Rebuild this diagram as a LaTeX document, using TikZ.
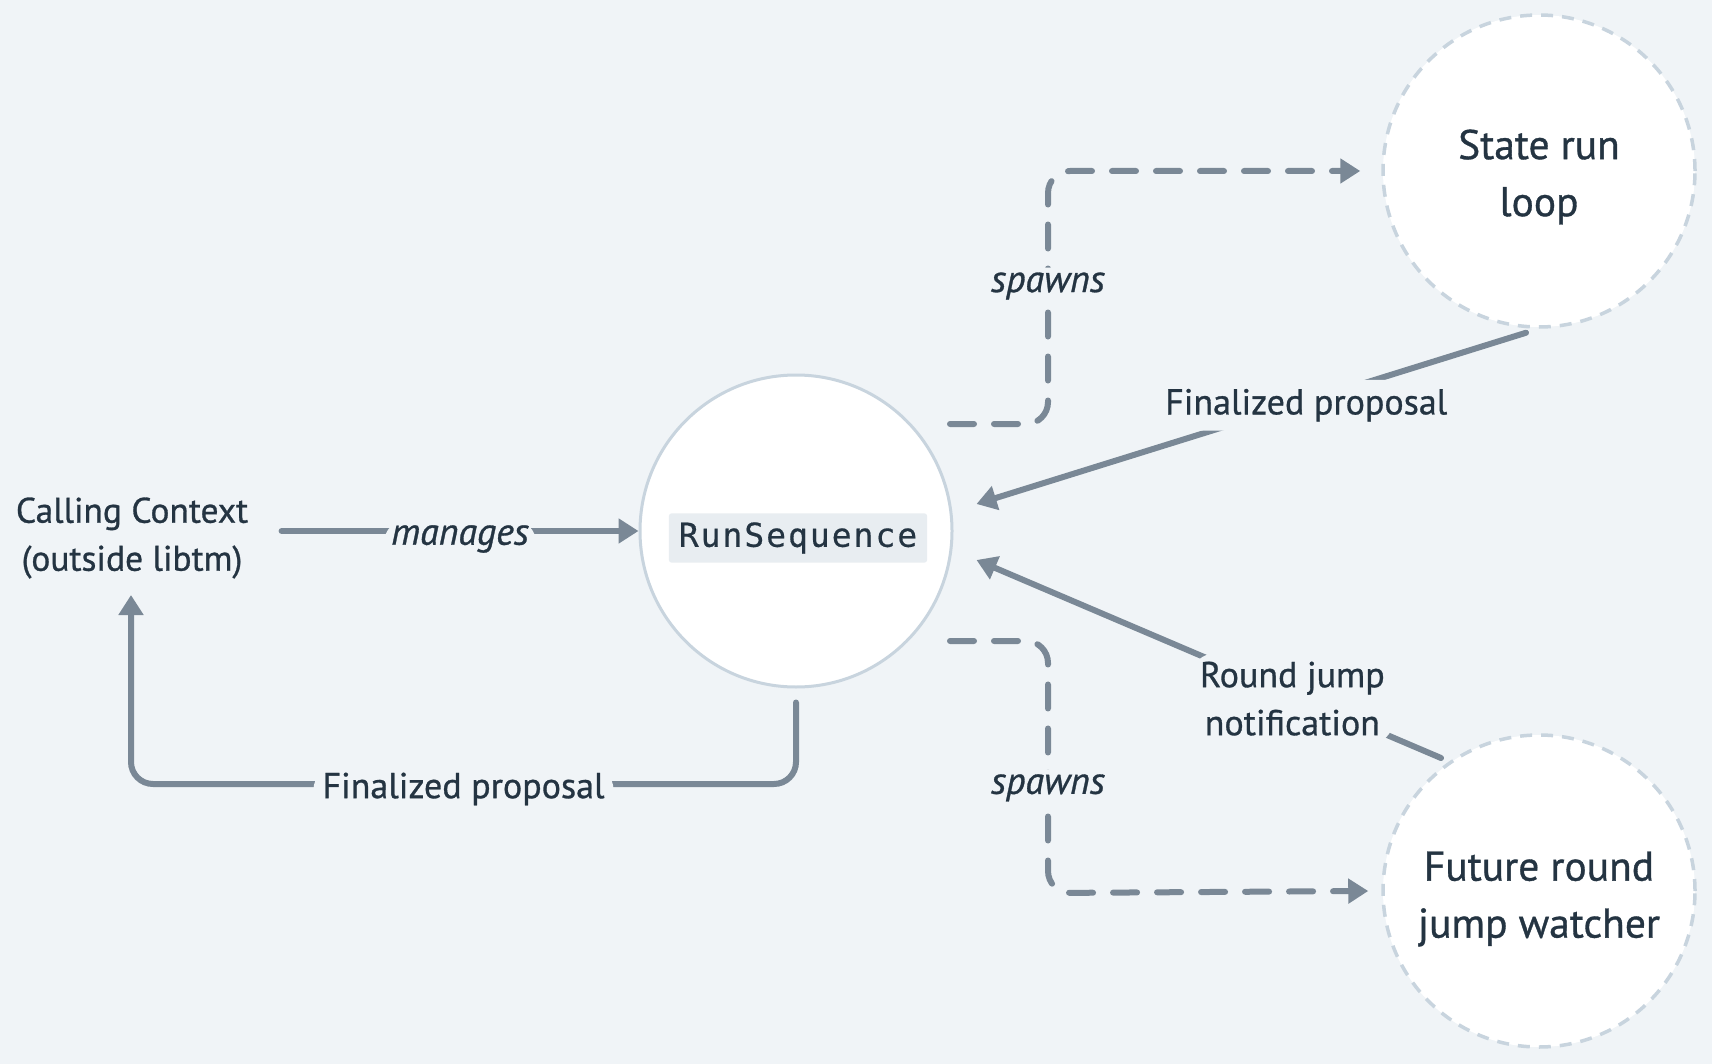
\documentclass[tikz,border=0pt]{standalone}
\usepackage{fontspec}
\setmainfont{PT Sans}[FakeBold=0.8]
\newfontfamily\codefont[LetterSpace=6,FakeBold=0.5]{DejaVu Sans Mono}
\usetikzlibrary{arrows.meta}
\definecolor{bgc}{HTML}{F0F4F7}
\definecolor{linec}{HTML}{7A8896}
\definecolor{textc}{HTML}{243442}
\definecolor{ringc}{HTML}{C8D4DE}
\definecolor{codebg}{HTML}{E8EDF1}
\tikzset{
  conn/.style={draw=linec, line width=6pt, line cap=round, rounded corners=22pt,
    -{Triangle[length=20pt,width=24pt]}},
  dconn/.style={conn, dash pattern=on 24pt off 20pt},
  lbl/.style={fill=bgc, text=textc, inner sep=5pt, font=\fontsize{36}{48}\selectfont, align=center},
  ilbl/.style={lbl, font=\fontsize{38}{48}\selectfont\itshape},
  plain/.style={text=textc, align=center, font=\fontsize{35.5}{48}\selectfont},
  solidring/.style={circle, draw=ringc, fill=white, line width=3pt, minimum size=312pt, inner sep=0pt},
  dashring/.style={circle, draw=ringc, fill=white, line width=3.5pt, dash pattern=on 12pt off 9pt,
    minimum size=312pt, inner sep=0pt},
  ringtext/.style={text=textc, align=center, font=\fontsize{41.5}{57}\selectfont},
  codebox/.style={fill=codebg, rounded corners=3pt, text=textc, inner xsep=10pt, inner ysep=9pt,
    font=\fontsize{33}{36}\selectfont\codefont},
}
\begin{document}
\begin{tikzpicture}[x=1pt,y=-1pt]
\fill[bgc] (0,0) rectangle (1712,1064);
\useasboundingbox (0,0) rectangle (1712,1064);

% nodes
\node[plain] (cc) at (132,538) {Calling Context\\(outside libtm)};
\node[solidring] (rs) at (796,531) {};
\node[codebox] (rslabel) at (798,538) {RunSequence};
\node[dashring] (sr) at (1539,171) {};
\node[ringtext] (srlabel) at (1539,177) {State run\\loop};
\node[dashring] (fr) at (1539,891) {};
\node[ringtext] (frlabel) at (1539,899) {Future round\\jump watcher};

% manages
\draw[conn] ([xshift=30pt]cc.east |- rs.west) -- node[ilbl, inner xsep=7pt, yshift=-8pt] {manages} (rs.west);

% finalized proposal back to calling context
\coordinate (retcorner) at (131,784);
\coordinate (ccin) at (131,595);
\draw[conn] ([yshift=-14pt]rs.south) |- node[lbl, pos=0.75, inner xsep=9pt, yshift=-5pt] {Finalized proposal} (retcorner) -- (ccin);

% spawns top
\coordinate (s1a) at (950,424);
\coordinate (s1b) at (1048,424);
\coordinate (s1c) at (1048,171);
\draw[dconn] (s1a) -- (s1b) -- node[ilbl, pos=0.565, yshift=-5pt] {spawns} (s1c) -- ([xshift=-21pt]sr.west);

% spawns bottom
\coordinate (s2a) at (950,641);
\coordinate (s2b) at (1048,641);
\coordinate (s2c) at (1048,893);
\draw[dconn] (s2a) -- (s2b) -- node[ilbl, pos=0.563, yshift=-5pt] {spawns} (s2c) -- ([xshift=-13pt]fr.west);

% finalized proposal from state run loop
\draw[conn] ([xshift=-13pt,yshift=-4pt]sr.south) -- node[lbl, pos=0.4, inner sep=9pt, yshift=-4pt] {Finalized proposal} ([xshift=23pt,yshift=27pt]rs.east);

% round jump notification
\draw[conn] ([xshift=-98pt,yshift=133pt]fr.center) -- node[lbl, pos=0.32, inner sep=8pt, yshift=-4pt] {Round jump\\notification} ([xshift=23pt,yshift=-29pt]rs.east);
\end{tikzpicture}
\end{document}
